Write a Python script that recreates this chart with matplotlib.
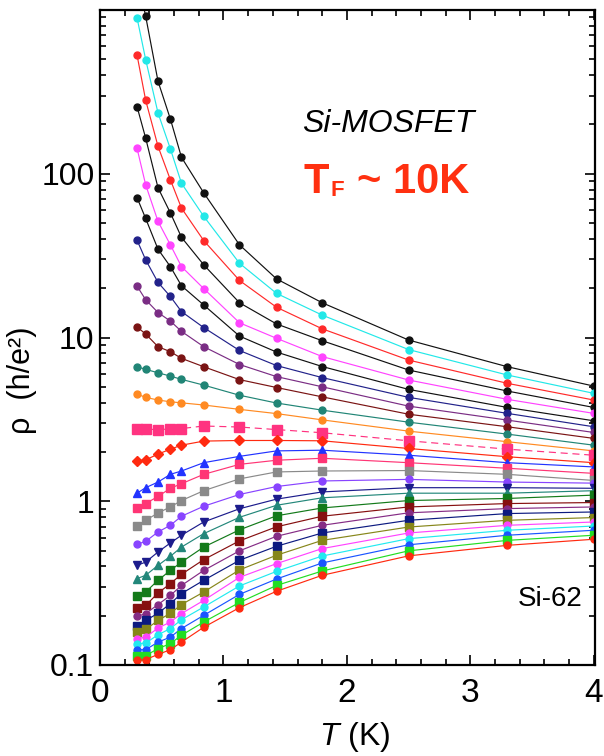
"""
Si-MOSFET resistivity vs temperature (sample Si-62), log scale
"""

import matplotlib
matplotlib.use('Agg')

from matplotlib import pyplot as plt
from matplotlib import font_manager
from matplotlib.ticker import FixedLocator, FixedFormatter, AutoMinorLocator, LogLocator, NullFormatter


# --------------------------------------------------------------------------------------------------------------------
# data...

T = [0.30, 0.37, 0.47, 0.57, 0.66, 0.84, 1.13, 1.43, 1.80, 2.50, 3.30, 4.00]

# rho (h/e^2), top curve first
rho_00 = [1600, 916, 367, 216, 126, 76.5, 36.8, 22.8, 16.3, 9.65, 6.63, 5.05]
rho_01 = [896, 498, 235, 142, 87.5, 55.0, 28.4, 18.6, 13.7, 8.44, 5.90, 4.56]
rho_02 = [531, 281, 147, 91.9, 61.7, 39.1, 22.3, 15.3, 11.3, 7.28, 5.25, 4.15]
rho_03 = [257, 165, 82.1, 57.7, 40.9, 27.8, 16.3, 12.1, 9.56, 6.33, 4.71, 3.74]
rho_04 = [143, 85.6, 51.2, 36.8, 27.1, 19.9, 12.3, 9.89, 7.65, 5.50, 4.19, 3.44]
rho_05 = [71.5, 53.3, 34.6, 27.1, 20.7, 15.8, 10.2, 8.15, 6.65, 4.82, 3.74, 3.10]
rho_06 = [39.3, 29.8, 21.7, 17.8, 14.4, 11.5, 8.33, 6.74, 5.69, 4.31, 3.44, 2.85]
rho_07 = [20.6, 17.0, 14.2, 12.6, 10.9, 8.79, 6.84, 5.77, 5.00, 3.81, 3.13, 2.63]
rho_08 = [11.6, 10.5, 8.79, 8.19, 7.46, 6.63, 5.53, 4.95, 4.34, 3.40, 2.85, 2.42]
rho_09 = [6.63, 6.39, 6.09, 5.81, 5.55, 5.12, 4.44, 3.98, 3.60, 3.04, 2.57, 2.20]
rho_10 = [4.51, 4.31, 4.15, 4.05, 3.99, 3.87, 3.64, 3.43, 3.14, 2.68, 2.31, 2.03]
rho_11 = [2.78, 2.78, 2.72, 2.78, 2.78, 2.88, 2.84, 2.74, 2.62, 2.34, 2.08, 1.91]
rho_12 = [1.76, 1.79, 1.94, 2.08, 2.20, 2.33, 2.35, 2.35, 2.34, 2.10, 1.87, 1.72]
rho_13 = [1.12, 1.21, 1.31, 1.46, 1.53, 1.72, 1.88, 2.03, 2.05, 1.91, 1.72, 1.62]
rho_14 = [0.915, 0.968, 1.07, 1.20, 1.28, 1.46, 1.68, 1.78, 1.83, 1.72, 1.59, 1.48]
rho_15 = [0.703, 0.765, 0.848, 0.923, 1.01, 1.16, 1.37, 1.51, 1.53, 1.54, 1.46, 1.34]
rho_16 = [0.546, 0.569, 0.649, 0.713, 0.810, 0.932, 1.10, 1.23, 1.33, 1.36, 1.31, 1.29]
rho_17 = [0.406, 0.425, 0.490, 0.556, 0.620, 0.747, 0.900, 1.03, 1.14, 1.21, 1.21, 1.20]
rho_18 = [0.337, 0.353, 0.406, 0.461, 0.525, 0.634, 0.798, 0.945, 1.05, 1.12, 1.12, 1.16]
rho_19 = [0.263, 0.279, 0.329, 0.378, 0.425, 0.525, 0.669, 0.815, 0.910, 1.01, 1.04, 1.09]
rho_20 = [0.223, 0.231, 0.275, 0.314, 0.358, 0.440, 0.573, 0.698, 0.810, 0.923, 0.968, 0.982]
rho_21 = [0.198, 0.206, 0.234, 0.266, 0.306, 0.378, 0.498, 0.611, 0.713, 0.850, 0.902, 0.923]
rho_22 = [0.174, 0.187, 0.207, 0.237, 0.273, 0.329, 0.436, 0.531, 0.640, 0.765, 0.841, 0.860]
rho_23 = [0.159, 0.165, 0.187, 0.207, 0.234, 0.279, 0.381, 0.468, 0.577, 0.696, 0.765, 0.795]
rho_24 = [0.145, 0.148, 0.168, 0.183, 0.206, 0.248, 0.343, 0.416, 0.514, 0.640, 0.713, 0.747]
rho_25 = [0.135, 0.136, 0.153, 0.167, 0.189, 0.226, 0.304, 0.373, 0.463, 0.591, 0.665, 0.706]
rho_26 = [0.124, 0.124, 0.138, 0.148, 0.167, 0.201, 0.270, 0.335, 0.420, 0.542, 0.620, 0.665]
rho_27 = [0.114, 0.114, 0.126, 0.135, 0.152, 0.183, 0.241, 0.306, 0.375, 0.498, 0.577, 0.620]
rho_28 = [0.107, 0.108, 0.116, 0.124, 0.138, 0.170, 0.224, 0.282, 0.353, 0.464, 0.538, 0.586]

y_ticks = [0.1, 1, 10, 100, 1000]
y_tick_labels = ['0.1', '1', '10', '100', '']
x_ticks = [0, 1, 2, 3, 4]
x_tick_labels = ['0', '1', '2', '3', '4']

series = [rho_00, rho_01, rho_02, rho_03, rho_04, rho_05, rho_06, rho_07, rho_08, rho_09,
          rho_10, rho_11, rho_12, rho_13, rho_14, rho_15, rho_16, rho_17, rho_18, rho_19,
          rho_20, rho_21, rho_22, rho_23, rho_24, rho_25, rho_26, rho_27, rho_28]


# --------------------------------------------------------------------------------------------------------------------
# styles...

colours = ['#111111', '#22e8e8', '#ff2a2a', '#111111', '#ff44ff', '#111111', '#22228a', '#7a2d84', '#7a1414',
           '#218576', '#ff8a22', '#ff3380', '#ff2a10', '#2233ff', '#ff3575', '#8a8a8a', '#8844ff', '#1c1c8c',
           '#23877a', '#137a1a', '#861010', '#852c85', '#0c1a80', '#86861a', '#ff44ff', '#22eaf0', '#1a55ff',
           '#22dd22', '#ff2a10']

markers = ['o', 'o', 'o', 'o', 'o', 'o', 'o', 'o', 'o', 'o',
           'o', 's', 'D', '^', 's', 's', 'o', 'v', '^', 's',
           's', 'o', 's', 's', 'o', 'o', 'o', 's', 'o']

text_font = 'Liberation Sans'
installed = {f.name for f in font_manager.fontManager.ttflist}
tick_font = 'Liberation Sans Narrow' if 'Liberation Sans Narrow' in installed else text_font

plt.rcParams['font.family'] = [text_font, 'DejaVu Sans']
plt.rcParams['mathtext.fontset'] = 'custom'
plt.rcParams['mathtext.it'] = text_font + ':italic'
plt.rcParams['mathtext.rm'] = text_font


# --------------------------------------------------------------------------------------------------------------------
# plotter...

fig = plt.figure(figsize=(6.04, 7.56), dpi=100)
ax = fig.add_axes([100 / 604, 1 - 665 / 756, 495 / 604, 655 / 756])

for i, rho in enumerate(series):
    dashed = i == 11
    size = 5.8 if markers[i] == 's' else 5.0
    if dashed:
        size = 7.0
    if markers[i] in ('^', 'v'):
        size = 6.0
    if markers[i] == 'D':
        size = 4.6

    ax.plot(T, rho, color=colours[i], lw=0.85, ls=(0, (6, 4)) if dashed else '-',
            marker=markers[i], ms=size, mec=colours[i], mfc=colours[i])

ax.set_yscale('log')
ax.set_xlim(0, 4.01)
ax.set_ylim(0.1, 1000)

ax.yaxis.set_major_locator(FixedLocator(y_ticks))
ax.yaxis.set_major_formatter(FixedFormatter(y_tick_labels))
ax.yaxis.set_minor_locator(LogLocator(base=10, subs=range(2, 10)))
ax.yaxis.set_minor_formatter(NullFormatter())

ax.xaxis.set_major_locator(FixedLocator(x_ticks))
ax.xaxis.set_major_formatter(FixedFormatter(x_tick_labels))
ax.xaxis.set_minor_locator(AutoMinorLocator(5))

ax.tick_params(which='both', direction='in', top=True, right=True, width=1.2, colors='black')
ax.tick_params(which='major', length=7)
ax.tick_params(which='minor', length=4)
ax.tick_params(axis='y', which='major', pad=4, labelsize=23)
ax.tick_params(axis='x', which='major', pad=9, labelsize=24)

for label in ax.get_xticklabels() + ax.get_yticklabels():
    label.set_family(tick_font)

for spine in ax.spines.values():
    spine.set_linewidth(1.6)

# labels...
fig.text(355 / 604, 1 - 745 / 756, r'$\mathit{T}$ (K)', fontsize=23, ha='center', va='baseline')
fig.text(22 / 604, 1 - 380 / 756, 'ρ  (h/e²)', fontsize=22, rotation=90, ha='center', va='center')

# annotations...
fig.text(302 / 604, 1 - 132 / 756, 'Si-MOSFET', fontsize=23, style='italic', va='baseline')
fig.text(303 / 604, 1 - 193 / 756, 'T', fontsize=30, weight='bold', color='#ff3010', va='baseline')
fig.text(330 / 604, 1 - 196 / 756, 'F', fontsize=16, weight='bold', color='#ff3010', va='baseline')
fig.text(357 / 604, 1 - 193 / 756, '~ 10K', fontsize=30, weight='bold', color='#ff3010', va='baseline')
fig.text(518 / 604, 1 - 606 / 756, 'Si-62', fontsize=20, va='baseline')

fig.savefig('out.png', dpi=100)
